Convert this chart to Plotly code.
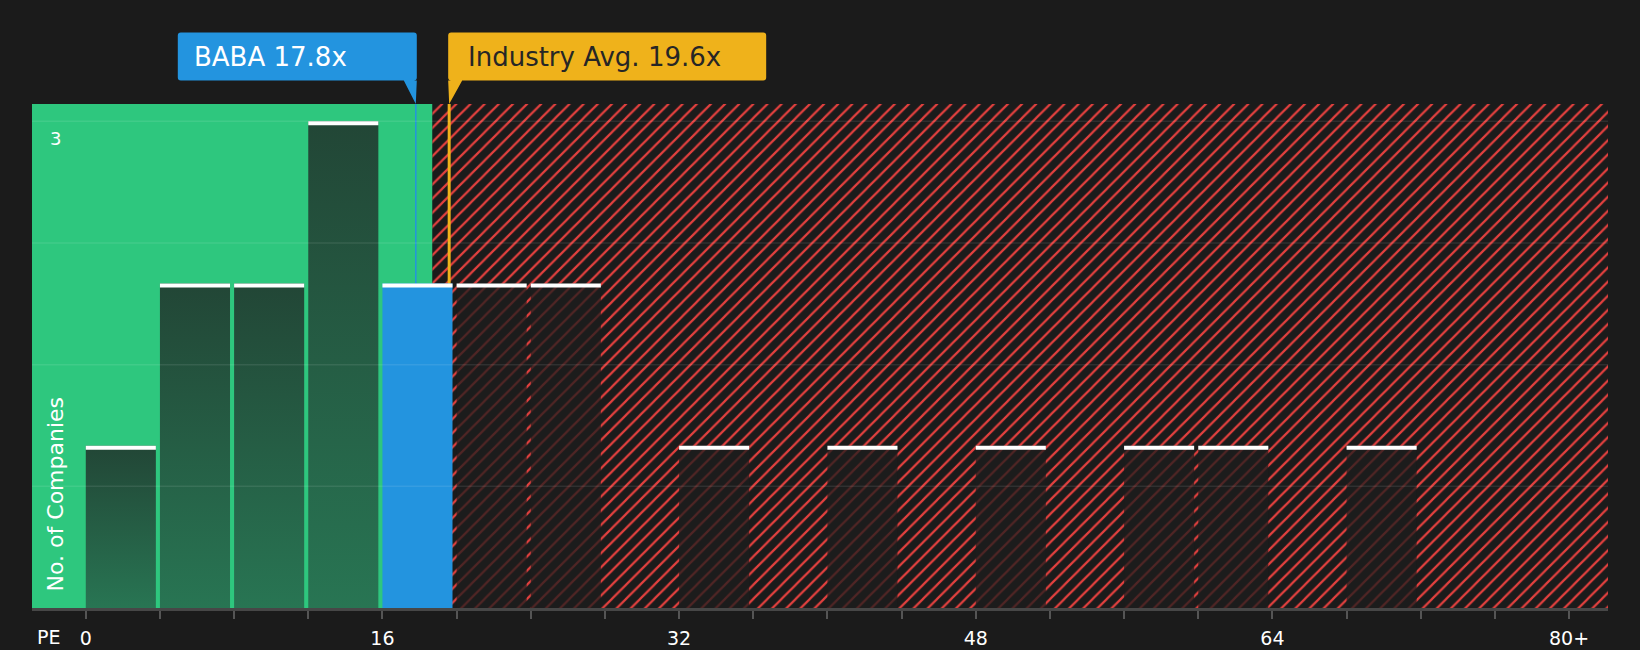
import plotly.graph_objects as go

# ---- data ----
bin_starts = [0, 4, 8, 12, 16, 20, 24, 32, 40, 48, 56, 60, 68]
company_counts = [1, 2, 2, 3, 2, 2, 2, 1, 1, 1, 1, 1, 1]
bin_size = 4
x_tick_values = list(range(0, 84, 4))
x_tick_labels = ["0", "", "", "", "16", "", "", "", "32", "", "", "", "48", "", "", "", "64", "", "", "", "80+"]
y_grid_values = [0.75, 1.5, 2.25, 3]
y_label_values = [3]
company_name = "BABA"
company_pe = 17.8
industry_pe = 19.6
fair_upper = 18.7

# ---- style ----
W, H = 1640, 650
ML, MR, MT, MB = 32, 32, 104, 42
X_RANGE = [-2.90, 82.10]
Y_RANGE = [0, 3.107]
BG = "#1b1b1b"
GREEN = "#2ec77e"
RED = "#e3403e"
BLUE = "#2394df"
GOLD = "#efb21b"
FONT = "DejaVu Sans"
bar_w = 3.78
plot_h_px = H - MT - MB
cap = 4 / plot_h_px * (Y_RANGE[1] - Y_RANGE[0])


def rect_xy(x0, x1, y0, y1):
    return [x0, x0, x1, x1, x0], [y0, y1, y1, y0, y0]


fig = go.Figure()

# hatched red region
hx, hy = rect_xy(fair_upper, X_RANGE[1], Y_RANGE[0], Y_RANGE[1])
fig.add_trace(go.Scatter(
    x=hx, y=hy, mode="none", fill="toself", fillcolor=BG,
    fillpattern=dict(shape="/", fgcolor=RED, bgcolor=BG, size=10, solidity=0.22, fillmode="replace"),
    hoverinfo="skip", showlegend=False))

# marker lines
fig.add_trace(go.Scatter(x=[industry_pe, industry_pe], y=[0, Y_RANGE[1]], mode="lines",
                         line=dict(color=GOLD, width=3), hoverinfo="skip", showlegend=False))
fig.add_trace(go.Scatter(x=[company_pe, company_pe], y=[0, Y_RANGE[1]], mode="lines",
                         line=dict(color=BLUE, width=1.5), hoverinfo="skip", showlegend=False))

red_x, red_y, cap_x, cap_y = [], [], [], []
for s, c in zip(bin_starts, company_counts):
    bx, by = rect_xy(s, s + bar_w, 0, c)
    if s <= company_pe < s + bin_size:
        fig.add_trace(go.Scatter(x=bx, y=by, mode="none", fill="toself", fillcolor=BLUE,
                                 hoverinfo="skip", showlegend=False))
    elif s + bin_size <= fair_upper:
        fig.add_trace(go.Scatter(
            x=bx, y=by, mode="none", fill="toself",
            fillgradient=dict(type="vertical", colorscale=[[0, "#287553"], [1, "#224636"]]),
            hoverinfo="skip", showlegend=False))
    else:
        red_x += bx + [None]
        red_y += by + [None]
    cx, cy = rect_xy(s, s + bar_w, c - cap, c)
    cap_x += cx + [None]
    cap_y += cy + [None]

fig.add_trace(go.Scatter(x=red_x, y=red_y, mode="none", fill="toself", fillcolor="rgba(29,29,29,0.74)",
                         hoverinfo="skip", showlegend=False))
fig.add_trace(go.Scatter(x=cap_x, y=cap_y, mode="none", fill="toself", fillcolor="#ffffff",
                         hoverinfo="skip", showlegend=False))

shapes = [dict(type="rect", xref="x", yref="paper", x0=X_RANGE[0], x1=fair_upper, y0=0, y1=1,
               fillcolor=GREEN, line_width=0, layer="below")]
for g in y_grid_values:
    shapes.append(dict(type="line", xref="paper", yref="y", x0=0, x1=1, y0=g, y1=g,
                       line=dict(color="rgba(255,255,255,0.09)", width=1.5), layer="above"))


def rounded_box(x0, x1, y0, y1, r):
    return (f"M{x0 + r},{y0} L{x1 - r},{y0} Q{x1},{y0} {x1},{y0 + r} L{x1},{y1 - r} Q{x1},{y1} {x1 - r},{y1} "
            f"L{x0 + r},{y1} Q{x0},{y1} {x0},{y1 - r} L{x0},{y0 + r} Q{x0},{y0} {x0 + r},{y0} Z")


box_lo, box_hi = 23.5, 71.5
shapes.append(dict(type="path", xref="x", yref="paper", xsizemode="pixel", ysizemode="pixel",
                   xanchor=company_pe, yanchor=1,
                   path=rounded_box(-238, 1, box_lo, box_hi, 3) + f" M-12,{box_lo} L1,{box_lo} L0,0 Z",
                   fillcolor=BLUE, line_width=0, layer="above"))
shapes.append(dict(type="path", xref="x", yref="paper", xsizemode="pixel", ysizemode="pixel",
                   xanchor=industry_pe, yanchor=1,
                   path=rounded_box(-1, 317, box_lo, box_hi, 3) + f" M-1,{box_lo} L13,{box_lo} L0,0 Z",
                   fillcolor=GOLD, line_width=0, layer="above"))

annotations = [
    dict(text=f"{company_name} {company_pe}x", x=company_pe, xref="x", xanchor="left", xshift=-224,
         y=1, yref="paper", yanchor="middle", yshift=(box_lo + box_hi) / 2, showarrow=False,
         font=dict(family=FONT, size=26, color="#ffffff")),
    dict(text=f"Industry Avg. {industry_pe}x", x=industry_pe, xref="x", xanchor="left", xshift=17,
         y=1, yref="paper", yanchor="middle", yshift=(box_lo + box_hi) / 2, showarrow=False,
         font=dict(family=FONT, size=26, color="#262626")),
    dict(text="No. of Companies", textangle=-90, x=0, xref="paper", xanchor="center", xshift=23,
         y=0.7, yref="y", yanchor="middle", showarrow=False,
         font=dict(family=FONT, size=22, color="#ffffff")),
    dict(text="PE", x=0, xref="paper", xanchor="center", xshift=16, y=0, yref="paper",
         yanchor="middle", yshift=-29, showarrow=False, font=dict(family=FONT, size=19, color="#ffffff")),
]
for v in y_label_values:
    annotations.append(dict(text=str(v), x=0, xref="paper", xanchor="center", xshift=23, y=v, yref="y",
                            yanchor="top", yshift=-5, showarrow=False,
                            font=dict(family=FONT, size=18, color="#ffffff")))

fig.update_layout(
    width=W, height=H, margin=dict(l=ML, r=MR, t=MT, b=MB, autoexpand=False),
    paper_bgcolor=BG, plot_bgcolor=BG, showlegend=False,
    shapes=shapes, annotations=annotations, font=dict(family=FONT, color="#ffffff"),
    xaxis=dict(range=X_RANGE, tickvals=x_tick_values, ticktext=x_tick_labels, ticks="outside",
               ticklen=8, tickwidth=1.5, tickcolor="#555555", showline=True, linecolor="#474747",
               linewidth=2.5, showgrid=False, zeroline=False, ticklabelstandoff=3, automargin=False,
               tickfont=dict(family=FONT, size=19, color="#ffffff")),
    yaxis=dict(range=Y_RANGE, showticklabels=False, showgrid=False, zeroline=False, ticks="",
               automargin=False),
)

fig.write_html("out.html", config={"displayModeBar": False}, post_script=(
    "document.body.style.margin='0';document.body.style.padding='0';"
    "document.body.style.overflow='hidden';document.body.style.background='#1b1b1b';"))
